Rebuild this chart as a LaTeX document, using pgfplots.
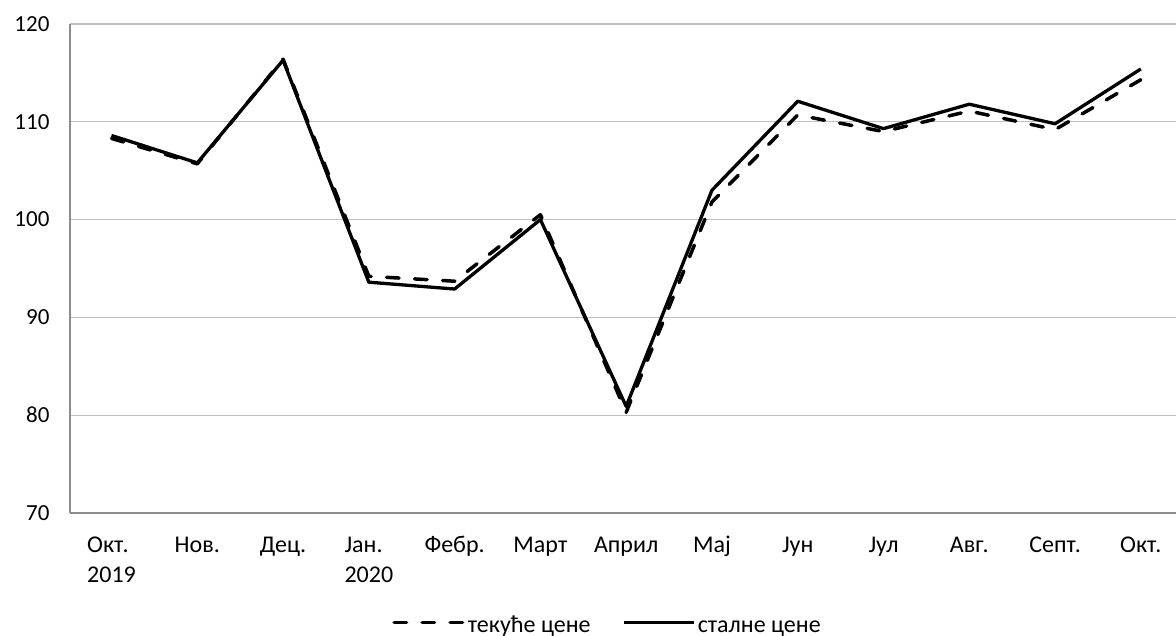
\documentclass[border=0pt]{standalone}
\usepackage{fontspec}
\setmainfont{Carlito}
\usepackage{pgfplots}
\pgfplotsset{compat=1.18}
\begin{document}
\begin{tikzpicture}
\useasboundingbox (-70pt,-123pt) rectangle (1106pt,513pt);
\begin{axis}[
  scale only axis,
  width=1106pt, height=489pt,
  xmin=-0.484, xmax=12.41,
  ymin=70, ymax=120,
  ytick={70,80,90,100,110,120},
  xtick={0,1,2,3,4,5,6,7,8,9,10,11,12},
  xticklabels={{\strut Окт.\\2019},\strut Нов.,\strut Дец.,{\strut Јан.\\2020},\strut Фебр.,\strut Март,\strut Април,\strut Мај,\strut Јун,\strut Јул,\strut Авг.,\strut Септ.,\strut Окт.},
  axis x line=bottom, axis y line=left,
  axis line style={draw=black!45, line width=1.3pt, -},
  major tick length=0pt,
  ymajorgrids,
  grid style={color=black!25, line width=1.3pt},
  /pgf/number format/assume math mode=true,
  yticklabel style={font=\fontsize{23}{30}\selectfont, xshift=-17pt},
  xticklabel style={font=\fontsize{24}{30}\selectfont, align=left, anchor=north, yshift=-15pt},
  legend style={draw=none, at={(axis description cs:0.486,-0.224)}, anchor=center,
    font=\fontsize{24}{30}\selectfont, inner sep=0pt,
    /tikz/every even column/.append style={column sep=30pt}},
  legend columns=2,
  legend cell align=left,
  legend image code/.code={\draw[#1] (0pt,0pt) -- (70pt,0pt);},
  clip=false,
]
\addplot[black, line width=3.5pt, line cap=round, line join=round, dash pattern=on 12.5pt off 15.5pt] coordinates {
(0,108.3) (1,105.7) (2,116.4) (3,94.2) (4,93.7) (5,100.5) (6,80.3) (7,101.8) (8,110.7) (9,109.0) (10,111.1) (11,109.2) (12,114.3)};
\addlegendentry{\strut текуће цене}
\addplot[black, line width=3.3pt, line join=round] coordinates {
(0,108.6) (1,105.8) (2,116.3) (3,93.6) (4,92.9) (5,100.0) (6,80.9) (7,103.0) (8,112.1) (9,109.3) (10,111.8) (11,109.8) (12,115.4)};
\addlegendentry{\strut сталне цене}
\end{axis}
\end{tikzpicture}
\end{document}
